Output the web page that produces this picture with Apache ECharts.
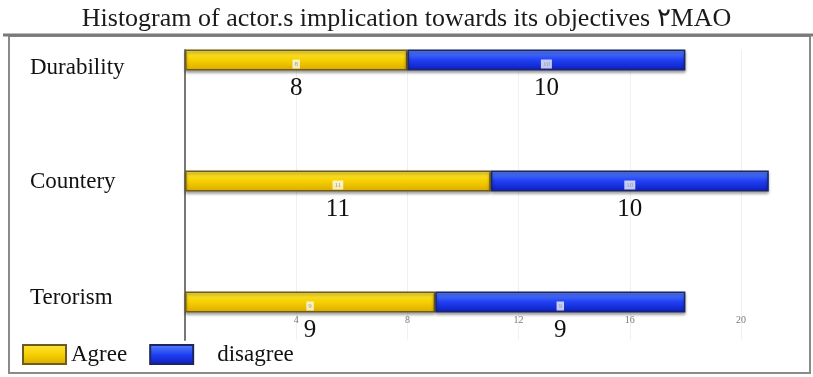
<!DOCTYPE html>
<html>
<head>
<meta charset="utf-8">
<script src="https://cdn.jsdelivr.net/npm/echarts@6/dist/echarts.min.js"></script>
<style>
  html, body { margin: 0; padding: 0; background: #fff; }
  #chart { width: 813px; height: 377px; }
</style>
</head>
<body>
<div id="chart"></div>
<script>
// Actors and their stance counts
const categories = ['Durability', 'Countery', 'Terorism'];
const agreeValues = [8, 11, 9];
const disagreeValues = [10, 10, 9];
const xTicks = [0, 4, 8, 12, 16, 20];
const titleText = 'Histogram of actor.s implication towards its objectives \u0662MAO';

const serif = '"Liberation Serif", "DejaVu Serif", serif';

function grad(top, mid, bottom) {
  return new echarts.graphic.LinearGradient(0, 0, 0, 1, [
    { offset: 0, color: top },
    { offset: 0.5, color: mid },
    { offset: 1, color: bottom }
  ]);
}

function barLabel() {
  return {
    show: true,
    position: 'inside',
    offset: [0, 19],
    formatter: p => '{s|' + p.value + '}\n{b|' + p.value + '}',
    rich: {
      s: { fontSize: 7, color: '#9a9a9a', backgroundColor: 'rgba(255,255,255,0.75)',
           padding: [1, 2], lineHeight: 9, fontFamily: serif, align: 'center' },
      b: { fontSize: 25, color: '#111', lineHeight: 30, padding: [9, 0, 0, 0],
           fontFamily: serif, align: 'center' }
    }
  };
}

// category label rows sit slightly off the bar centre
const catShift = { Durability: 'd', Countery: 'c', Terorism: 't' };

const chart = echarts.init(document.getElementById('chart'), null, { renderer: 'canvas' });

chart.setOption({
  animation: false,
  backgroundColor: '#fff',
  title: {
    text: titleText,
    left: 'center',
    top: 1,
    textStyle: { fontFamily: serif, fontSize: 26, fontWeight: 'normal', color: '#1a1a1a' }
  },
  graphic: [
    // outer frame around the plot area
    { type: 'rect', shape: { x: 9, y: 36, width: 801, height: 337 },
      style: { fill: 'none', stroke: '#8a8a8a', lineWidth: 2 }, silent: true, z: -1 },
    { type: 'line', shape: { x1: 3, y1: 35, x2: 813, y2: 35 },
      style: { stroke: '#7a7a7a', lineWidth: 3 }, silent: true, z: -1 }
  ],
  legend: {
    left: 22,
    top: 343,
    padding: 0,
    itemWidth: 43,
    itemHeight: 19,
    itemGap: 22,
    icon: 'rect',
    data: ['Agree', 'disagree'],
    formatter: name => name === 'disagree' ? '{p|}' + name : name,
    textStyle: {
      fontFamily: serif, fontSize: 23, color: '#111',
      rich: { p: { width: 19 } }
    }
  },
  grid: [
    { left: 185, width: 556, top: 60, bottom: 75 },
    { left: 185, width: 556, top: 50, bottom: 37 }
  ],
  xAxis: [
    {
      gridIndex: 0, type: 'value', min: 0, max: 20, interval: 4,
      axisLine: { show: false }, axisTick: { show: false },
      splitLine: { show: false },
      axisLabel: {
        margin: 13, fontSize: 10, color: '#7a7a7a', fontFamily: serif,
        showMinLabel: false,
        formatter: v => xTicks.includes(v) ? String(v) : ''
      }
    },
    {
      gridIndex: 1, type: 'value', min: 0, max: 20, interval: 4,
      axisLine: { show: false }, axisTick: { show: false }, axisLabel: { show: false },
      splitLine: { show: true, lineStyle: { color: '#f0f0f0', width: 1 } }
    }
  ],
  yAxis: [
    {
      gridIndex: 0, type: 'category', data: categories, inverse: true, boundaryGap: false,
      axisLine: { show: false }, axisTick: { show: false },
      axisLabel: {
        align: 'left', margin: 155, fontFamily: serif, fontSize: 23, color: '#111',
        formatter: v => '{' + catShift[v] + '|' + v + '}',
        rich: {
          d: { fontFamily: serif, fontSize: 23, color: '#111', padding: [16, 0, 0, 0] },
          c: { fontFamily: serif, fontSize: 23, color: '#111', padding: [2, 0, 0, 0] },
          t: { fontFamily: serif, fontSize: 23, color: '#111', padding: [0, 0, 8, 0] }
        }
      }
    },
    {
      gridIndex: 1, type: 'value', min: 0, max: 1,
      axisLine: { show: true, lineStyle: { color: '#777', width: 2 } },
      axisTick: { show: false }, axisLabel: { show: false }, splitLine: { show: false }
    }
  ],
  series: [
    {
      name: 'Agree', type: 'bar', stack: 'stance', xAxisIndex: 0, yAxisIndex: 0,
      barWidth: 21, data: agreeValues, clip: false,
      itemStyle: {
        color: grad('#ffe640', '#f5d000', '#dcaa00'),
        borderColor: '#6e5c1c', borderWidth: 1.5,
        shadowColor: 'rgba(0,0,0,0.35)', shadowBlur: 3, shadowOffsetY: 2
      },
      label: barLabel()
    },
    {
      name: 'disagree', type: 'bar', stack: 'stance', xAxisIndex: 0, yAxisIndex: 0,
      barWidth: 21, data: disagreeValues, clip: false,
      itemStyle: {
        color: grad('#5a86ff', '#2040f2', '#0c1cc0'),
        borderColor: '#1c2660', borderWidth: 1.5,
        shadowColor: 'rgba(0,0,0,0.35)', shadowBlur: 3, shadowOffsetY: 2
      },
      label: barLabel()
    }
  ]
});
</script>
</body>
</html>
